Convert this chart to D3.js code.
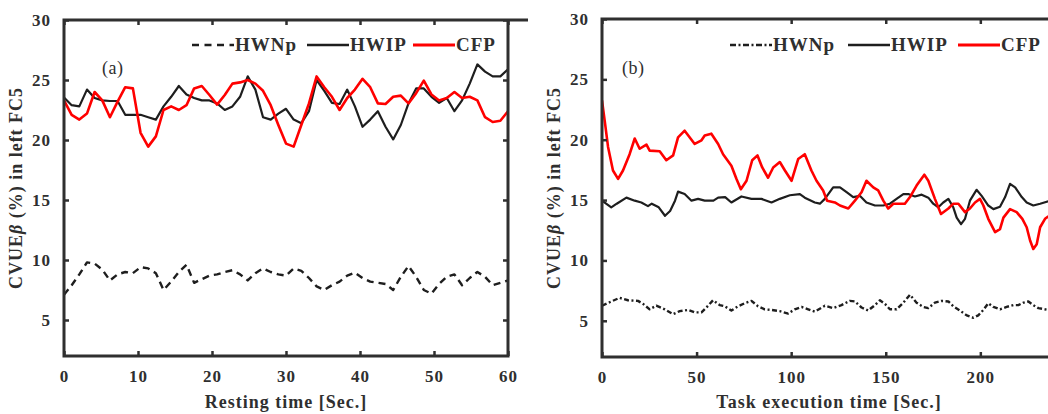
<!DOCTYPE html>
<html><head><meta charset="utf-8">
<script src="https://cdn.jsdelivr.net/npm/d3@7"></script>
<style>
html,body{margin:0;padding:0;background:#fff;overflow:hidden}
text{font-family:"Liberation Serif","Times New Roman",serif;fill:#2f2f2f}
</style></head><body>
<svg id="chart" width="1048" height="414"></svg>
<script>
// ---------- DATA ----------
const seriesNames = ["HWNp", "HWIP", "CFP"];
const yTicks = [5, 10, 15, 20, 25, 30];
const xTicksA = [0, 10, 20, 30, 40, 50, 60];
const xTicksB = [0, 50, 100, 150, 200];

// Panel (a): resting, 59 samples evenly over 0-60 s
const hwnpA = [7.1,7.9,8.8,9.8,9.7,9.2,8.3,8.8,9.0,8.9,9.4,9.3,8.9,7.5,8.2,9.0,9.6,8.1,8.4,8.7,8.8,9.0,9.15,8.8,8.3,8.9,9.3,9.0,8.8,8.7,9.3,9.1,8.5,7.8,7.5,7.9,8.2,8.7,8.95,8.5,8.2,8.1,8.0,7.5,8.6,9.5,8.6,7.5,7.2,8.0,8.6,8.8,7.9,8.5,9.0,8.6,7.9,8.1,8.3];
const hwipA = [23.55,22.9,22.8,24.2,23.5,23.3,23.25,23.25,22.1,22.1,22.1,21.9,21.7,22.8,23.6,24.5,23.8,23.5,23.3,23.3,23.05,22.5,22.8,23.6,25.3,24.2,21.9,21.7,22.2,22.6,21.7,21.4,22.4,25.0,24.1,23.1,23.0,24.2,22.8,21.1,21.7,22.4,21.1,20.05,21.25,23.05,24.3,24.3,23.6,23.1,23.5,22.4,23.3,24.7,26.3,25.7,25.3,25.3,25.9];
const cfpA = [23.3,22.1,21.7,22.2,24.0,23.3,21.9,23.2,24.4,24.3,20.6,19.45,20.3,22.5,22.8,22.5,22.9,24.3,24.5,23.75,22.95,23.75,24.7,24.8,25.0,24.7,24.1,22.9,21.25,19.7,19.45,21.25,23.05,25.3,24.4,23.6,22.5,23.5,24.2,25.1,24.4,23.05,23.0,23.6,23.7,23.05,23.9,24.95,23.8,23.3,23.5,24.0,23.5,23.6,23.3,21.9,21.5,21.6,22.4];

// Panel (b): task execution, read at the visible turning points
const hwnpTimeB = [0,4.9,9.3,13.7,19,21.7,25.2,28.7,33.1,37.6,41.1,45.5,49,52.6,55.2,58.7,62.2,64.9,68.4,71.9,75.4,79,82.5,86,89.6,94,98.4,101.9,105.5,109,112.5,117.8,122.2,126.6,131,133.7,137.2,140.7,144.3,146.9,149.6,152.2,155.7,159.3,162.8,166.3,169.8,172.5,176,179.5,183.1,185.7,189.2,192.8,196.3,198.9,201.6,204.2,206.9,210.4,213.9,217.5,220.1,222.8,225.4,228,230.7,236];
const hwnpB = [6.25,6.6,6.9,6.7,6.65,6.4,5.95,6.25,5.95,5.55,5.8,5.9,5.7,5.7,6.1,6.7,6.3,6.2,5.85,6.2,6.45,6.65,6.2,5.95,5.9,5.8,5.6,5.95,6.15,5.95,5.75,6.25,6.05,6.3,6.65,6.6,6.1,5.85,6.3,6.7,6.4,5.95,5.95,6.5,7.15,6.5,6.15,6.05,6.5,6.65,6.6,6.2,5.85,5.45,5.25,5.45,5.9,6.45,6.15,5.95,6.15,6.3,6.3,6.5,6.6,6.3,6.05,5.9];
const hwipTimeB = [0,4.9,7.8,12.9,17.3,20.8,24.3,26.3,30,33.3,36,38.6,40.2,43.7,47.3,50.8,54.3,58.9,61.4,65.1,68.4,73.7,79,84.3,89.6,94,99.3,104.6,107.2,112.5,115.2,117.8,122.2,125.8,129.3,132.8,136.3,139.8,144.3,148.7,152.2,155.7,159.3,161.9,165.4,169,172.5,175.1,177.8,180.4,183.1,185.7,187.5,189.8,191.9,194.5,198,200.7,204.2,206.9,210.4,213.1,215.7,218.4,221.9,224.5,228,231.6,236];
const hwipB = [14.95,14.4,14.7,15.2,14.95,14.8,14.5,14.7,14.4,13.7,14.1,14.95,15.7,15.5,14.95,15.1,14.95,14.95,15.2,15.25,14.8,15.3,15.1,15.1,14.8,15.1,15.4,15.5,15.2,14.8,14.7,15.1,16.05,16.05,15.65,15.25,15.35,14.8,14.55,14.55,14.7,15.1,15.5,15.5,15.3,15.45,15.2,14.7,14.4,14.8,15.1,14.4,13.55,13.0,13.45,14.95,15.85,15.35,14.55,14.25,14.45,15.25,16.35,16.05,15.25,14.8,14.55,14.7,14.9];
const cfpTimeB = [0,1.4,3.2,5.8,8.5,11.1,14.6,17.3,19.9,23.5,25.2,30.5,34,37.6,40.2,43.7,49,52.6,54.3,57.8,61.4,64,68.4,71.1,73.4,76.4,79.4,82.2,84.7,87.8,90.5,94,96.7,100.2,103.7,107.2,110.7,113.4,116.9,119,123.1,125.8,130.2,133.7,137.2,139.8,143.4,146,148.7,151.3,154,160.1,162.8,166.3,170.4,172.5,176,179.2,183.1,185.7,188.4,191.9,194.5,197.2,199.8,201.6,204.2,207.8,210.4,212.2,215.7,219.2,222.2,224.5,226.3,228,229.8,231.6,234.2,236];
const cfpB = [23.25,21.6,19.4,17.45,16.75,17.45,18.8,20.1,19.25,19.6,19.1,19.05,18.3,18.7,20.2,20.75,19.65,19.95,20.35,20.5,19.65,18.8,17.85,16.75,15.9,16.6,18.3,18.7,17.7,16.85,17.7,18.15,17.45,16.6,18.4,18.8,17.45,16.6,15.8,14.95,14.8,14.55,14.3,14.95,15.65,16.6,16.05,15.8,14.95,14.3,14.7,14.7,15.25,16.2,17.1,16.6,15.1,13.85,14.3,14.7,14.7,14.0,14.3,14.8,15.1,14.55,13.45,12.35,12.6,13.55,14.25,14.0,13.45,12.75,11.65,10.95,11.35,12.75,13.45,13.65];

// ---------- DRAW ----------
const svg = d3.select("#chart");
const INK = "#2f2f2f";

function panel(cfg) {
  const x = d3.scaleLinear().domain(cfg.xDomain).range([cfg.left, cfg.right]);
  const y = d3.scaleLinear().domain([2, 30]).range([cfg.bottom, cfg.top]);
  const g = svg.append("g");
  const clipId = "clip" + cfg.id;
  svg.append("clipPath").attr("id", clipId).append("rect")
    .attr("x", cfg.left).attr("y", cfg.top).attr("width", cfg.right - cfg.left).attr("height", cfg.bottom - cfg.top);

  // series
  const line = d3.line().x(d => x(d[0])).y(d => y(d[1]));
  const lines = g.append("g").attr("clip-path", `url(#${clipId})`);
  cfg.series.forEach(s => {
    lines.append("path").datum(s.pts).attr("d", line)
      .attr("fill", "none").attr("stroke", s.color).attr("stroke-width", s.width)
      .attr("stroke-dasharray", s.dash || null).attr("stroke-linejoin", "round");
  });

  // axes (inward ticks)
  const tl = 5;
  const fmt = d3.format("d");
  const bx = g.append("g").attr("transform", `translate(0,${cfg.bottom})`)
    .call(d3.axisBottom(x).tickValues(cfg.xTicks).tickSize(-tl).tickPadding(tl + 9).tickFormat(fmt));
  const tx = g.append("g").attr("transform", `translate(0,${cfg.top})`)
    .call(d3.axisTop(x).tickValues(cfg.xTicks).tickSize(-tl).tickFormat(""));
  const ly = g.append("g").attr("transform", `translate(${cfg.left},0)`)
    .call(d3.axisLeft(y).tickValues(yTicks).tickSize(-tl).tickPadding(tl + 8).tickFormat(fmt));
  const axesList = [bx, tx, ly];
  if (cfg.rightFrame) {
    const ry = g.append("g").attr("transform", `translate(${cfg.right},0)`)
      .call(d3.axisRight(y).tickValues(yTicks).tickSize(-tl).tickFormat(""));
    axesList.push(ry);
  }
  axesList.forEach(a => {
    a.select(".domain").remove();
    a.selectAll(".tick line").attr("stroke", INK).attr("stroke-width", 2.5);
    a.selectAll(".tick text").attr("fill", INK).style("font-size", "17px").style("font-weight", "bold")
      .style("font-family", '"Liberation Serif",serif').style("letter-spacing", "1px");
  });
  // frame
  const fr = d3.path();
  fr.moveTo(cfg.right + 20, cfg.top); fr.lineTo(cfg.left, cfg.top); fr.lineTo(cfg.left, cfg.bottom);
  fr.lineTo(cfg.rightFrame ? cfg.right : cfg.right + 20, cfg.bottom);
  if (cfg.rightFrame) { fr.lineTo(cfg.right, cfg.top); fr.closePath(); }
  g.append("path").attr("d", fr.toString()).attr("fill", "none").attr("stroke", INK).attr("stroke-width", 3)
    .attr("stroke-linejoin", "miter").attr("stroke-linecap", "square");

  // axis titles
  g.append("text").attr("x", (cfg.left + cfg.right) / 2).attr("y", 408).attr("text-anchor", "middle")
    .style("font-size", "18px").style("font-weight", "bold").style("letter-spacing", "1px").text(cfg.xTitle);
  const yt = g.append("text").attr("transform", `translate(${cfg.yTitleX},${(cfg.top + cfg.bottom) / 2}) rotate(-90)`)
    .attr("text-anchor", "middle").style("font-size", "18px").style("font-weight", "bold").style("letter-spacing", "1px");
  yt.append("tspan").text("CVUE");
  yt.append("tspan").style("font-style", "italic").text("β");
  yt.append("tspan").text(" (%) in left FC5");

  // panel tag
  g.append("text").attr("x", cfg.tagX).attr("y", 74).style("font-size", "18px").style("letter-spacing", "0.5px").text(cfg.tag);

  // legend
  const lg = g.append("g");
  cfg.series.forEach((s, i) => {
    const lx = cfg.legendX[i];
    lg.append("line").attr("x1", lx).attr("x2", lx + 42).attr("y1", 45).attr("y2", 45)
      .attr("stroke", s.color).attr("stroke-width", s.width + 0.3).attr("stroke-dasharray", s.legendDash || s.dash || null);
    lg.append("text").attr("x", lx + 43).attr("y", 51).style("font-size", "19px").style("font-weight", "bold")
      .style("letter-spacing", "1px").text(seriesNames[i]);
  });
}

const idxA = d3.scaleLinear().domain([0, hwipA.length - 1]).range([0, 60]);
const zipA = arr => arr.map((v, i) => [idxA(i), v]);
const zipB = (t, v) => t.map((tt, i) => [tt, v[i]]);

panel({
  id: "a", left: 64, right: 508, top: 20, bottom: 356, xDomain: [0, 60], xTicks: xTicksA, rightFrame: true,
  xTitle: "Resting time [Sec.]", yTitleX: 22, tag: "(a)", tagX: 102, legendX: [192, 307, 413],
  series: [
    { pts: zipA(hwnpA), color: "#1e1e1e", width: 2.4, dash: "7,5", legendDash: "7,5.5" },
    { pts: zipA(hwipA), color: "#1e1e1e", width: 2.2 },
    { pts: zipA(cfpA), color: "#ff0000", width: 2.6 }
  ]
});

panel({
  id: "b", left: 602, right: 1056, top: 19, bottom: 357, xDomain: [0, 240], xTicks: xTicksB, rightFrame: false,
  xTitle: "Task execution time [Sec.]", yTitleX: 560, tag: "(b)", tagX: 622, legendX: [730, 848, 958],
  series: [
    { pts: zipB(hwnpTimeB, hwnpB), color: "#1e1e1e", width: 2.4, dash: "5,2.5,2,2.5", legendDash: "6,2.5,2,2.5" },
    { pts: zipB(hwipTimeB, hwipB), color: "#1e1e1e", width: 2.2 },
    { pts: zipB(cfpTimeB, cfpB), color: "#ff0000", width: 2.6 }
  ]
});
</script>
</body></html>
